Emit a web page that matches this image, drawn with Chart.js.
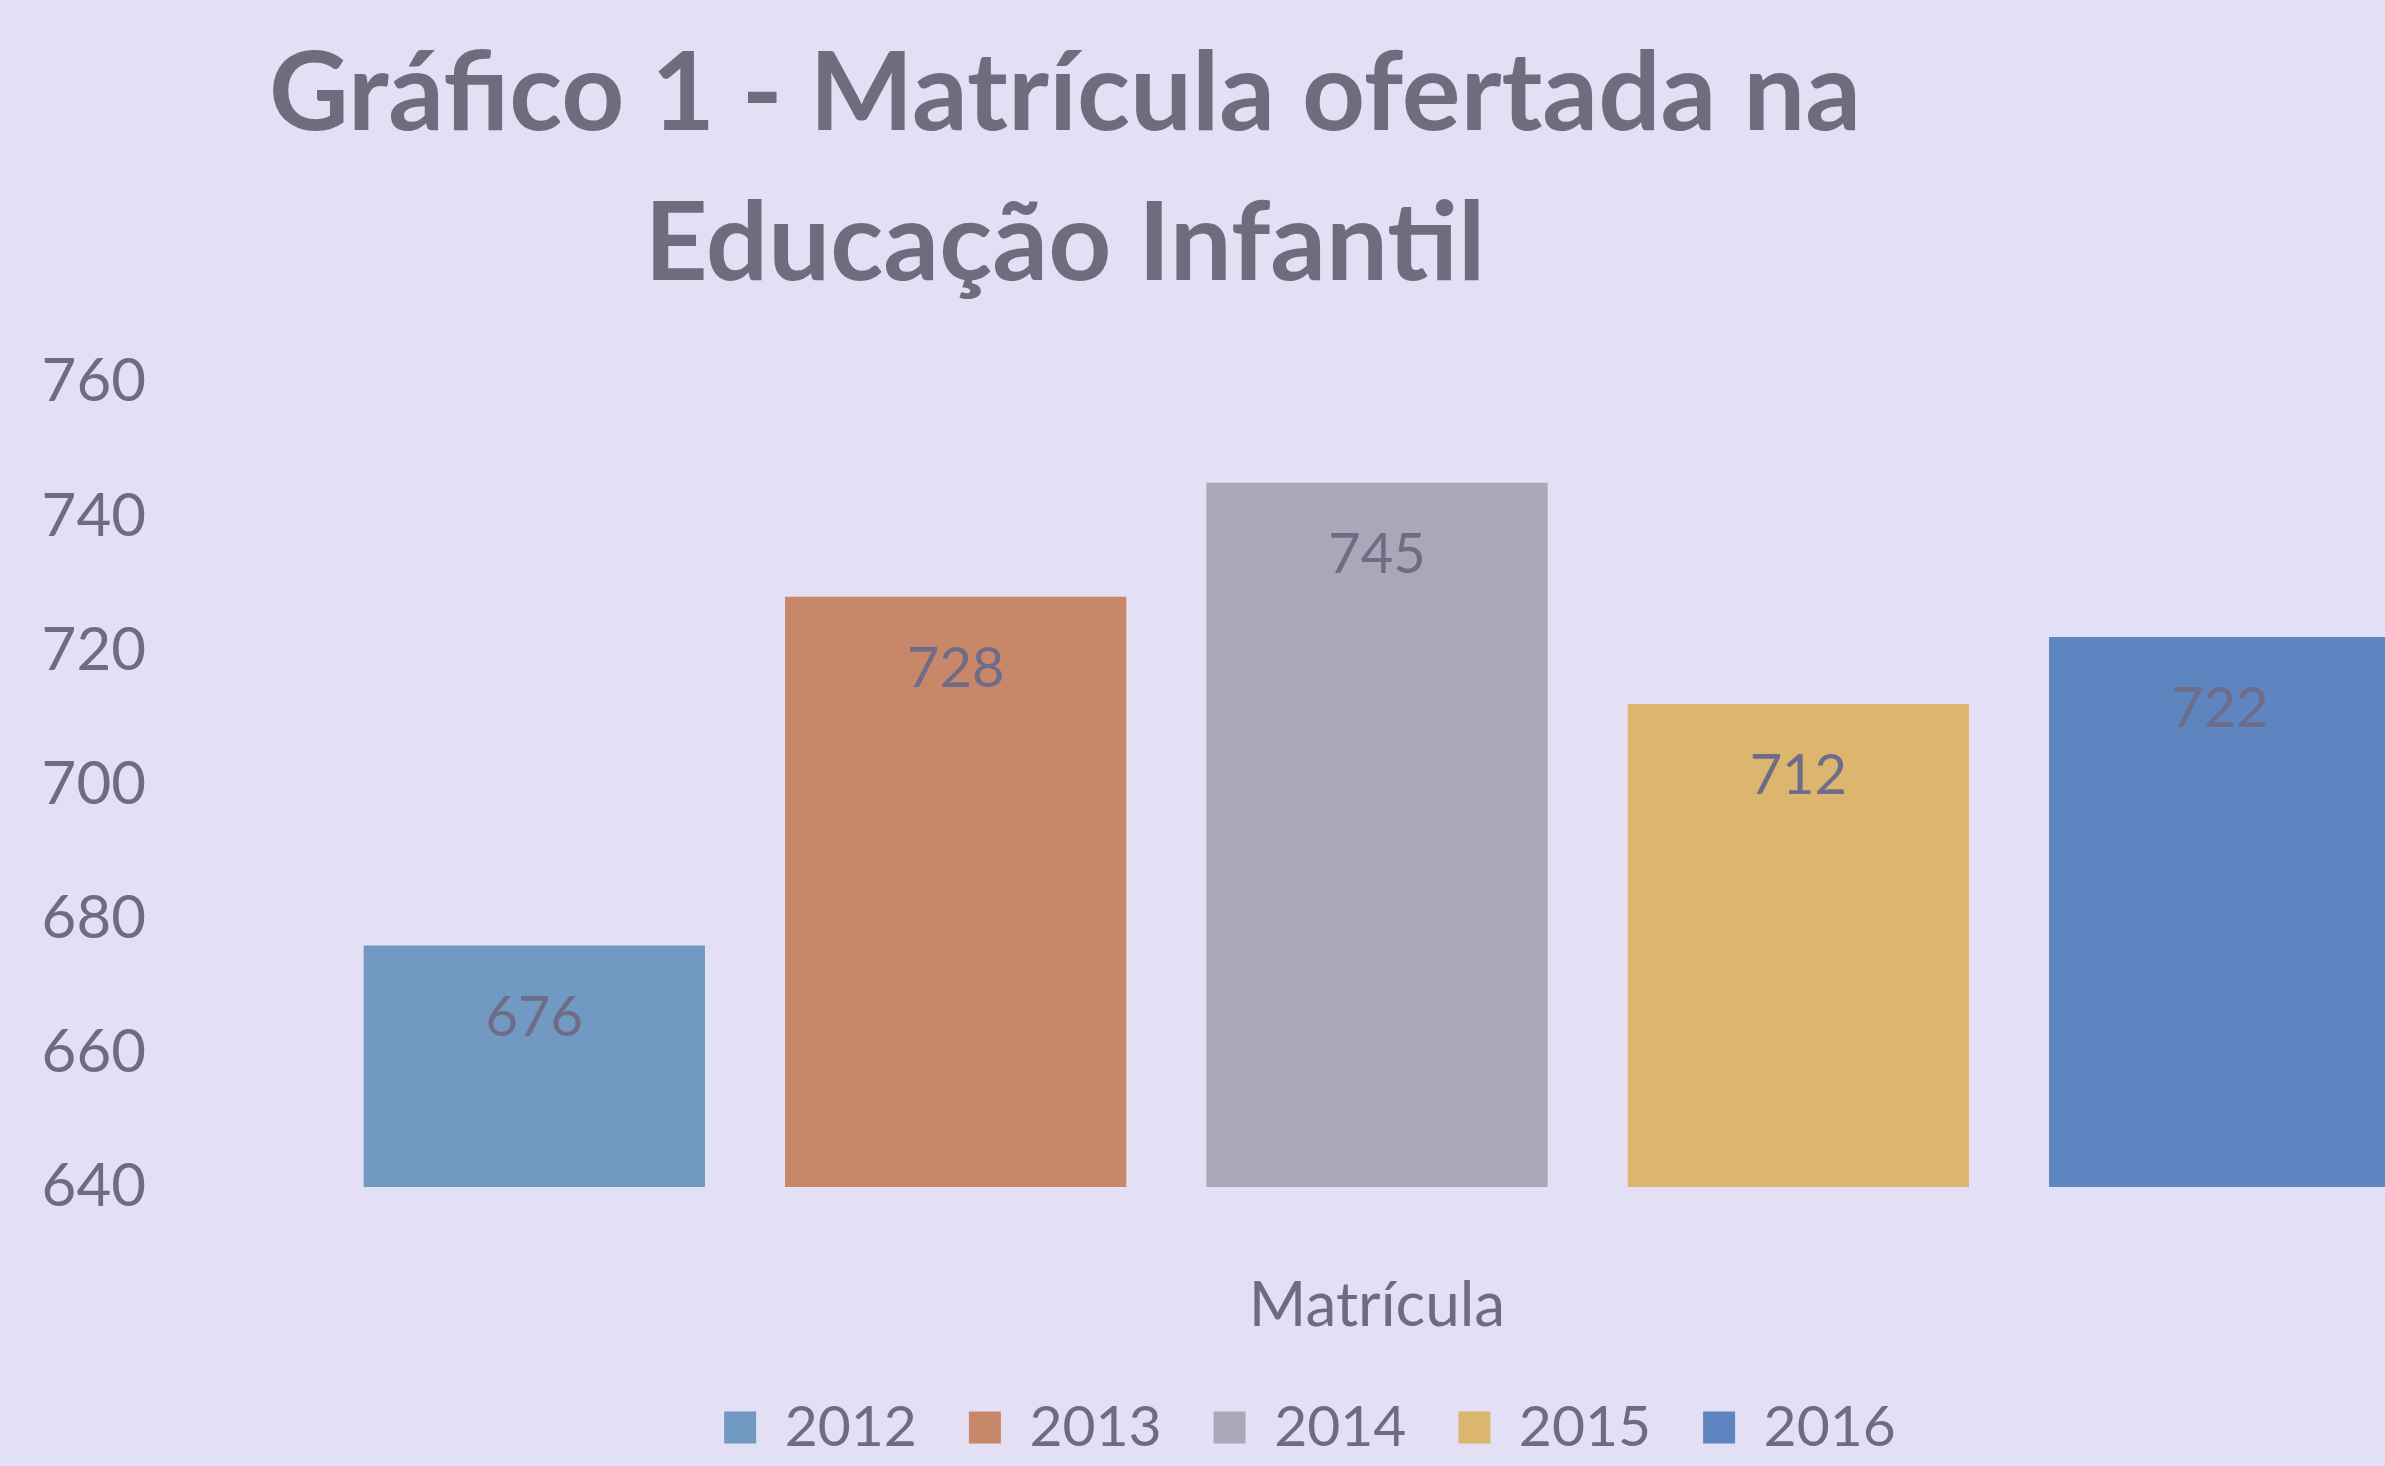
<!DOCTYPE html>
<html>
<head>
<meta charset="utf-8">
<script src="https://cdn.jsdelivr.net/npm/chart.js@4/dist/chart.umd.min.js"></script>
<style>
  html, body { margin: 0; padding: 0; background: #e3dff4; overflow: hidden; }
  #wrap { position: relative; width: 2385px; height: 1466px; overflow: hidden; }
  #title {
    position: absolute; left: 0; top: 12px; width: 2130px;
    text-align: center; font-family: Lato, sans-serif; font-weight: bold;
    font-size: 110px; line-height: 150px; color: #6e6d7e;
  }
  #box { position: absolute; left: 0; top: 0; width: 2500px; height: 1466px; }
</style>
</head>
<body>
<div id="wrap">
  <div id="title">Gráfico 1 - Matrícula ofertada na<br>Educação Infantil</div>
  <div id="box"><canvas id="matriculaChart"></canvas></div>
</div>
<script>
// Matrícula ofertada na Educação Infantil
const categories = ['Matrícula'];
const years = ['2012', '2013', '2014', '2015', '2016'];
const matriculas = [676, 728, 745, 712, 722];
const barColors = ['#7199c2', '#c98769', '#a9a8b6', '#dcb56f', '#5e85bf'];
const yTicks = { min: 640, max: 760, step: 20 };

// draws the value inside the top of each bar
const valueLabels = {
  id: 'valueLabels',
  afterDatasetsDraw(chart) {
    const ctx = chart.ctx;
    ctx.save();
    ctx.font = '56px Lato, sans-serif';
    ctx.fillStyle = '#6f6c88';
    ctx.textAlign = 'center';
    ctx.textBaseline = 'middle';
    chart.data.datasets.forEach((ds, i) => {
      const bar = chart.getDatasetMeta(i).data[0];
      ctx.fillText(ds.data[0], bar.x, bar.y + 72);
    });
    ctx.restore();
  }
};

// legend sits a bit right of the canvas centre
const legendShift = {
  id: 'legendShift',
  afterLayout(chart) {
    chart.legend.left += 140;
  }
};

const ctx = document.getElementById('matriculaChart');
new Chart(ctx, {
  type: 'bar',
  data: {
    labels: categories,
    datasets: years.map((y, i) => ({
      label: y,
      data: [matriculas[i]],
      backgroundColor: barColors[i],
      borderWidth: 0
    }))
  },
  options: {
    responsive: true,
    maintainAspectRatio: false,
    animation: false,
    layout: { padding: { top: 382, left: 0, right: 20, bottom: 0 } },
    datasets: { bar: { categoryPercentage: 0.955, barPercentage: 0.81 } },
    scales: {
      x: {
        grid: { display: false },
        border: { display: false },
        ticks: { color: '#6e6d80', font: { family: 'Lato', size: 62 }, padding: 74 },
        afterFit(scale) { scale.height = 160; }
      },
      y: {
        min: yTicks.min,
        max: yTicks.max,
        grid: { display: false },
        border: { display: false },
        ticks: {
          stepSize: yTicks.step,
          color: '#6e6d80',
          font: { family: 'Lato', size: 60 },
          padding: 120
        },
        afterFit(scale) { scale.width = 274; }
      }
    },
    plugins: {
      legend: {
        position: 'bottom',
        align: 'center',
        labels: {
          color: '#6e6d80',
          font: { family: 'Lato', size: 57 },
          boxWidth: 32,
          boxHeight: 32,
          padding: 52
        }
      },
      tooltip: { enabled: false }
    }
  },
  plugins: [valueLabels, legendShift]
});
</script>
</body>
</html>
